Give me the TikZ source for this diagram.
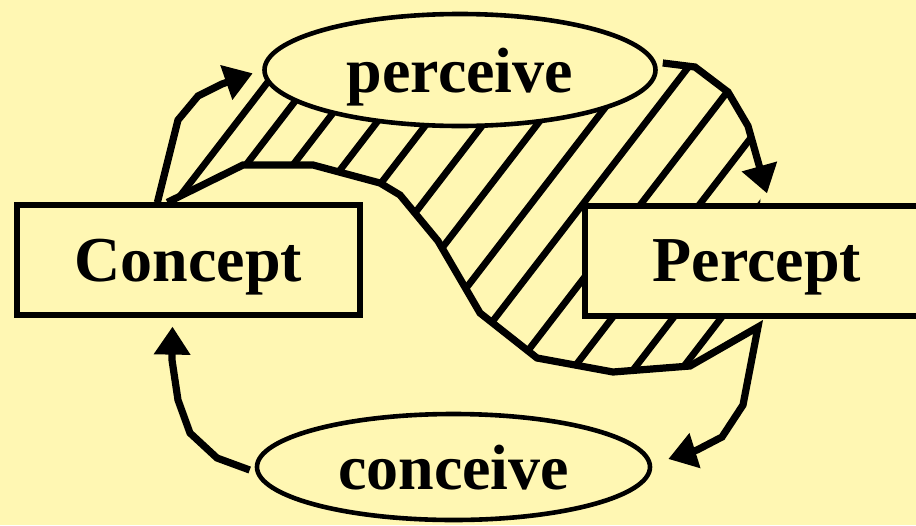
\documentclass[tikz,border=0pt]{standalone}
\usepackage{fontspec}
\setmainfont{Liberation Serif}
\usetikzlibrary{shapes.geometric, arrows.meta}
\definecolor{paper}{HTML}{FFF7B3}

\begin{document}
\begin{tikzpicture}[x=0.5pt, y=-0.5pt,
        >={Triangle[length=14pt,width=17.5pt]},
        word/.style={font=\bfseries\fontsize{32}{36}\selectfont, text depth=0pt, inner sep=0pt, fill=paper},
        box/.style={word, draw, rectangle, line width=2.6pt, minimum height=55pt},
        oval/.style={word, draw, ellipse, line width=2.3pt},
        flow/.style={line width=3.6pt},
        hatch/.style={line width=3.4pt}]
    \fill[paper] (0,0) rectangle (916,525);
    \useasboundingbox (0,0) rectangle (916,525);

    % bends of the wavy edge and of the upper right arrow
    \coordinate (w1) at (243,165);
    \coordinate (w2) at (313,165);
    \coordinate (w3) at (380,183);
    \coordinate (w4) at (400,195);
    \coordinate (w5) at (438,241);
    \coordinate (w6) at (480,313);
    \coordinate (w7) at (537,358);
    \coordinate (w8) at (613,372);
    \coordinate (w9) at (690,366);
    \coordinate (w10) at (758,327);
    \coordinate (r1) at (695,67);
    \coordinate (r2) at (728,92);
    \coordinate (r3) at (748,126);

    % hatching
    \begin{scope}
        \clip (160,205) -- (255,72) -- (460,30) -- (662,60) -- (r1) -- (r2) -- (r3)
            -- (762,180) -- (760,205) -- (770,320) -- (w10) -- (w9) -- (w8) -- (w7)
            -- (w6) -- (w5) -- (w4) -- (w3) -- (w2) -- (w1) -- (168,202) -- cycle;
        \foreach \x in {177,219,266,317,368,425,479,534,586,644,703,764,812}
            \draw[hatch] (\x-231,500) -- (\x+154,0);
    \end{scope}

    \node[box, minimum width=171.5pt] (concept) at (188.5,260) {Concept};
    \node[box, minimum width=172pt] (percept) at (757,261) {Percept};
    \node[oval, minimum width=195.5pt, minimum height=56pt] (perceive) at (460,70) {perceive};
    \node[oval, minimum width=196.5pt, minimum height=53pt] (conceive) at (453.5,467) {conceive};

    \draw[flow, ->, shorten >=5pt] ([xshift=71.5pt]concept.north west) -- (178,120) -- (198,96)
        -- (222,84) -- (perceive.west);
    \draw[flow, ->] ([xshift=2.5pt,yshift=3.5pt]perceive.east) -- (r1) -- (r2) -- (r3)
        -- ([xshift=5pt,yshift=5pt]percept.north);
    \draw[flow, ->] ([xshift=76.5pt]concept.north west) -- (w1) -- (w2) -- (w3) -- (w4) -- (w5)
        -- (w6) -- (w7) -- (w8) -- (w9) -- (w10) -- (743,405) -- (722,437) -- (697,450)
        -- ([xshift=8pt,yshift=4pt]conceive.east);
    \draw[flow, ->] ([xshift=-2.5pt,yshift=-1.5pt]conceive.west) -- (217,458) -- (190,433)
        -- (178,400) -- (172,360) -- ([xshift=-8pt,yshift=-4.5pt]concept.south);
\end{tikzpicture}
\end{document}
